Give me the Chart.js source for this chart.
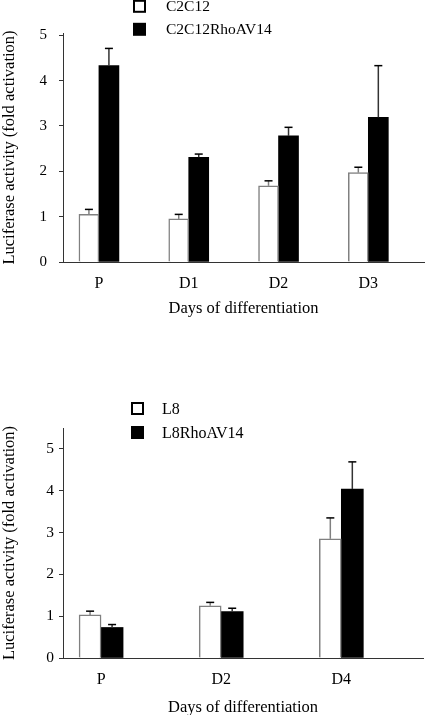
<!DOCTYPE html>
<html>
<head>
<meta charset="utf-8">
<script src="https://cdn.jsdelivr.net/npm/chart.js@4"></script>
<style>
  html, body { margin: 0; padding: 0; background: #fff; }
  body { width: 425px; height: 715px; overflow: hidden; position: relative; }
  .panel { position: absolute; left: 0; width: 425px; }
  #topPanel { top: 0; height: 330px; }
  #botPanel { top: 370px; height: 345px; }
</style>
</head>
<body>
<div class="panel" id="topPanel"><canvas id="chartTop"></canvas></div>
<div class="panel" id="botPanel"><canvas id="chartBot"></canvas></div>
<script>
// top panel - C2C12 cells
const topDays = ['P', 'D1', 'D2', 'D3'];
const c2c12 = [1.05, 0.95, 1.68, 1.97];
const c2c12Err = [0.11, 0.10, 0.11, 0.12];
const c2c12Rho = [4.33, 2.31, 2.78, 3.19];
const c2c12RhoErr = [0.38, 0.07, 0.19, 1.14];

// bottom panel - L8 cells
const botDays = ['P', 'D2', 'D4'];
const l8 = [1.03, 1.25, 2.85];
const l8Err = [0.09, 0.08, 0.50];
const l8Rho = [0.73, 1.11, 4.04];
const l8RhoErr = [0.07, 0.08, 0.65];

const yTitle = 'Luciferase activity (fold activation)';
const xTitle = 'Days of differentiation';
const serif = '"Liberation Serif", "Times New Roman", serif';

// error bars (only upward, with a small cap)
const errorBars = {
  id: 'errorBars',
  afterDatasetsDraw(chart) {
    const ctx = chart.ctx;
    const yScale = chart.scales.y;
    chart.data.datasets.forEach((ds, i) => {
      const meta = chart.getDatasetMeta(i);
      meta.data.forEach((bar, j) => {
        const v = ds.data[j].y;
        const yTop = yScale.getPixelForValue(v + ds.errors[j]);
        ctx.save();
        ctx.lineWidth = 1.5;
        ctx.strokeStyle = ds.errColor;
        ctx.beginPath();
        ctx.moveTo(bar.x, bar.y);
        ctx.lineTo(bar.x, yTop);
        ctx.stroke();
        ctx.strokeStyle = '#000';
        ctx.beginPath();
        ctx.moveTo(bar.x - 4, yTop);
        ctx.lineTo(bar.x + 4, yTop);
        ctx.stroke();
        ctx.restore();
      });
    });
  }
};

// legend drawn as two stacked rows
const boxLegend = {
  id: 'boxLegend',
  afterDraw(chart, args, opts) {
    const ctx = chart.ctx;
    ctx.save();
    chart.data.datasets.forEach((ds, i) => {
      const cy = opts.rows[i];
      const s = opts.size;
      if (ds.backgroundColor === '#000') {
        ctx.fillStyle = '#000';
        ctx.fillRect(opts.x, cy - s / 2, s, s);
      } else {
        ctx.strokeStyle = '#000';
        ctx.lineWidth = 2;
        ctx.strokeRect(opts.x + 1, cy - s / 2 + 1, s - 2, s - 2);
      }
      ctx.fillStyle = '#000';
      ctx.font = opts.fontSize + 'px ' + serif;
      ctx.textBaseline = 'alphabetic';
      ctx.textAlign = 'left';
      ctx.fillText(ds.label, opts.textX, cy + 5);
    });
    ctx.restore();
  }
};

function makeChart(canvasid, cfg) {
  const ctx = document.getElementById(canvasid).getContext('2d');
  const pts = arr => arr.map((v, i) => ({ x: i, y: v }));
  return new Chart(ctx, {
    type: 'bar',
    data: {
      datasets: [{
        label: cfg.names[0],
        data: pts(cfg.white),
        errors: cfg.whiteErr,
        errColor: '#808080',
        backgroundColor: '#fff',
        borderColor: '#808080',
        borderWidth: 1.5,
        barThickness: cfg.barW
      }, {
        label: cfg.names[1],
        data: pts(cfg.black),
        errors: cfg.blackErr,
        errColor: '#333',
        backgroundColor: '#000',
        borderWidth: 0,
        barThickness: cfg.barW
      }]
    },
    options: {
      responsive: true,
      maintainAspectRatio: false,
      animation: false,
      events: [],
      layout: { padding: { top: cfg.padTop, right: cfg.padRight, left: 0, bottom: 0 } },
      scales: {
        x: {
          type: 'linear',
          offset: false,
          min: cfg.xMin,
          max: cfg.xMax,
          grid: { display: false },
          border: { display: true, color: '#333', width: 1 },
          ticks: {
            stepSize: 1,
            includeBounds: false,
            autoSkip: false,
            maxRotation: 0,
            padding: 4,
            color: '#000',
            font: { family: serif, size: 16 },
            callback: v => Number.isInteger(v) ? cfg.days[v] : ''
          },
          title: {
            display: true,
            text: xTitle,
            color: '#000',
            font: { family: serif, size: 16.5, lineHeight: 0.9 },
            padding: { top: 0, bottom: cfg.xTitlePad }
          },
          afterFit: s => { s.height = cfg.xHeight; }
        },
        y: {
          min: 0,
          max: cfg.yMax,
          grid: { drawOnChartArea: false, drawTicks: true, tickLength: 4, color: '#333' },
          border: { display: true, color: '#333', width: 1 },
          ticks: {
            stepSize: 1,
            includeBounds: false,
            padding: cfg.yTickPad,
            color: '#000',
            font: { family: serif, size: cfg.yTickSize }
          },
          title: {
            display: true,
            text: yTitle,
            color: '#000',
            font: { family: serif, size: 16.5, lineHeight: 1.2 },
            padding: { top: 0, bottom: 0 }
          },
          afterFit: s => { s.width = 63; }
        }
      },
      plugins: {
        legend: { display: false },
        tooltip: { enabled: false },
        boxLegend: cfg.legend
      }
    },
    plugins: [errorBars, boxLegend]
  });
}

makeChart('chartTop', {
  days: topDays,
  names: ['C2C12', 'C2C12RhoAV14'],
  white: c2c12, whiteErr: c2c12Err,
  black: c2c12Rho, blackErr: c2c12RhoErr,
  barW: 20,
  xMin: -0.40, xMax: 3.62, yMax: 5.05,
  padTop: 33, padRight: 1,
  xHeight: 68, xTitlePad: 14,
  yTickPad: 12, yTickSize: 15,
  legend: { x: 133, textX: 166, rows: [6.3, 29.3], size: 13, fontSize: 15.5 }
});

makeChart('chartBot', {
  days: botDays,
  names: ['L8', 'L8RhoAV14'],
  white: l8, whiteErr: l8Err,
  black: l8Rho, blackErr: l8RhoErr,
  barW: 22,
  xMin: -0.317, xMax: 2.68, yMax: 5.5,
  padTop: 58, padRight: 2,
  xHeight: 57, xTitlePad: 0,
  yTickPad: 5, yTickSize: 15.5,
  legend: { x: 131, textX: 162, rows: [38.5, 62.5], size: 13, fontSize: 16 }
});
</script>
</body>
</html>
